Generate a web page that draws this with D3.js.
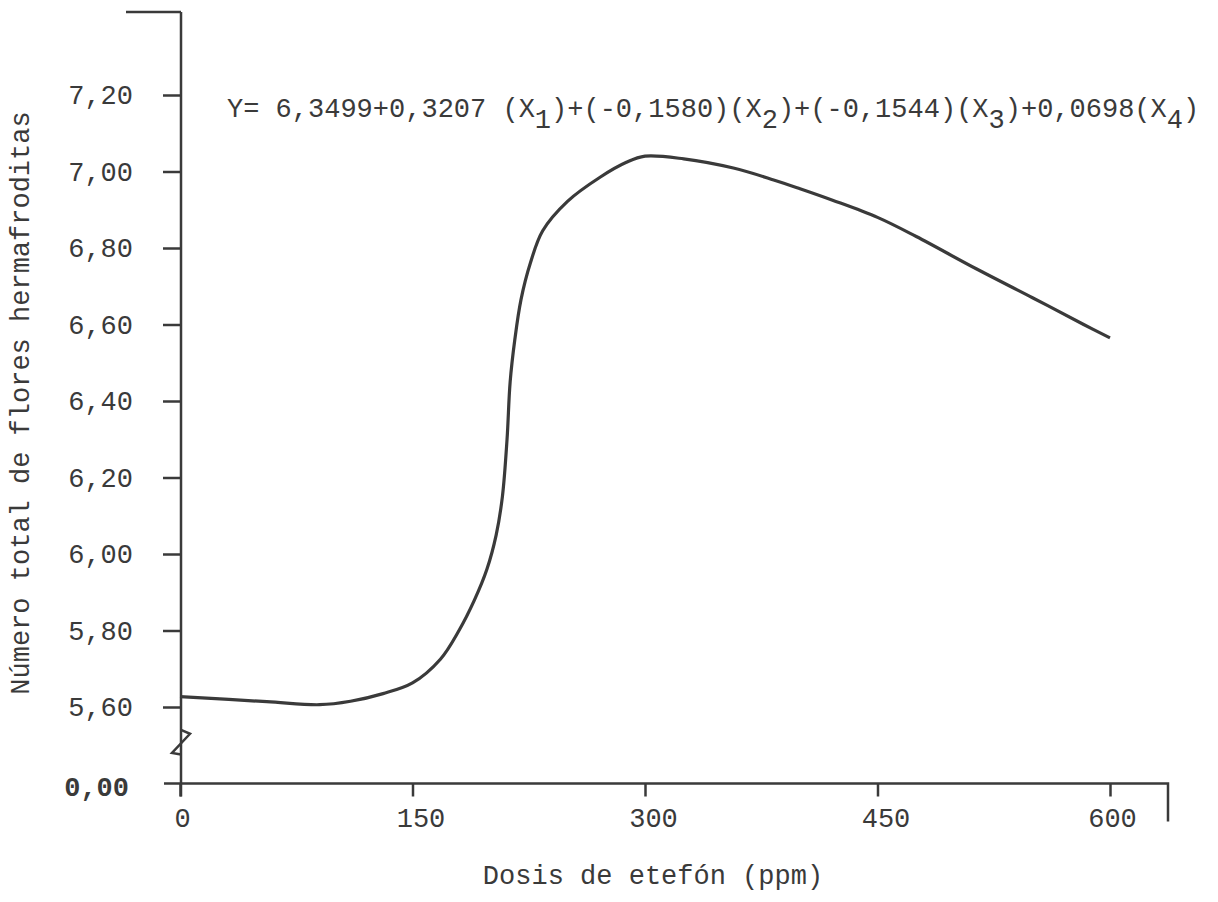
<!DOCTYPE html>
<html>
<head>
<meta charset="utf-8">
<script src="https://cdn.jsdelivr.net/npm/d3@7"></script>
<style>
  body { margin: 0; background: #fff; }
  text { font-family: "Liberation Mono", "DejaVu Sans Mono", monospace; fill: #3a3a3a; }
</style>
</head>
<body>
<script>
// dose (ppm) and total hermaphrodite flowers
var doses  = [0, 56, 90, 110, 131, 150, 168, 180, 190, 198, 204, 208, 211, 213, 216, 220, 226, 234, 250, 271, 288, 300, 325, 357, 383, 400, 421, 450, 475, 514, 550, 583, 600];
var values = [5.627, 5.614, 5.606, 5.615, 5.635, 5.663, 5.725, 5.800, 5.880, 5.960, 6.050, 6.150, 6.300, 6.450, 6.560, 6.665, 6.760, 6.845, 6.922, 6.985, 7.024, 7.040, 7.033, 7.009, 6.978, 6.955, 6.925, 6.880, 6.830, 6.745, 6.670, 6.600, 6.565];

var xTicks = [0, 150, 300, 450, 600];
var yTicks = [5.6, 5.8, 6.0, 6.2, 6.4, 6.6, 6.8, 7.0, 7.2];
var yBreakLabel = "0,00";

var xTitle = "Dosis de etefón (ppm)";
var yTitle = "Número total de flores hermafroditas";
// equation pieces: [text, isSubscript]
var equation = [["Y= 6,3499+0,3207 (X", 0], ["1", 1], [")+(-0,1580)(X", 0], ["2", 1],
                [")+(-0,1544)(X", 0], ["3", 1], [")+0,0698(X", 0], ["4", 1], [")", 0]];

var w = 1218, h = 902;
var ink = "#3a3a3a";

var svg = d3.select('body').append('svg')
            .attr('width', w)
            .attr('height', h);

var x = d3.scaleLinear().domain([0, 600]).range([180, 1110]);
var y = d3.scaleLinear().domain([5.6, 7.2]).range([707, 95]);
var step = y(5.6) - y(5.8);
var yBase = y(5.6) + step;   // where 0,00 sits after the axis break

// y axis
var yAxis = d3.axisLeft(y)
              .tickValues(yTicks)
              .tickSize(18)
              .tickPadding(30)
              .tickFormat(function(d){ return d3.format('.2f')(d).replace('.', ','); });

var gy = svg.append('g').attr('transform', 'translate(181,0)').call(yAxis);
gy.select('.domain').remove();
gy.selectAll('line').attr('stroke', ink).attr('stroke-width', 2.5);
gy.selectAll('text').attr('font-size', '27px').style('fill', ink);

svg.append('line')
   .attr('x1', 181).attr('x2', 181)
   .attr('y1', 12).attr('y2', yBase + 13)
   .attr('stroke', ink).attr('stroke-width', 2.5);
svg.append('line')
   .attr('x1', 126).attr('x2', 181)
   .attr('y1', 12).attr('y2', 12)
   .attr('stroke', ink).attr('stroke-width', 2.5);

// break mark
svg.append('path')
   .attr('d', d3.line()([[181, y(5.6) + step*0.3], [190, y(5.6) + step*0.35], [172, y(5.6) + step*0.6], [181, y(5.6) + step*0.62]]))
   .attr('fill', 'none').attr('stroke', ink).attr('stroke-width', 2.5);

svg.append('text')
   .attr('x', 129).attr('y', yBase + 5)
   .attr('text-anchor', 'end')
   .attr('dominant-baseline', 'central')
   .attr('font-size', '27px')
   .attr('font-weight', 'bold')
   .text(yBreakLabel);

// x axis
var xAxis = d3.axisBottom(x)
              .tickValues(xTicks)
              .tickSize(13)
              .tickPadding(11);

var gx = svg.append('g').attr('transform', 'translate(0,' + yBase + ')').call(xAxis);
gx.select('.domain').remove();
gx.selectAll('line').attr('stroke', ink).attr('stroke-width', 2.5);
gx.selectAll('text').attr('font-size', '27px').attr('dx', function(d){ return d > 0 && d < 600 ? 8 : 2; }).style('fill', ink);

svg.append('path')
   .attr('d', d3.line()([[164, yBase], [1168, yBase], [1168, yBase + 38]]))
   .attr('fill', 'none').attr('stroke', ink).attr('stroke-width', 2.5);

// curve
var line = d3.line()
             .x(function(d){ return x(d[0]); })
             .y(function(d){ return y(d[1]); })
             .curve(d3.curveCatmullRom.alpha(0.5));

svg.append('path')
   .datum(d3.zip(doses, values))
   .attr('d', line)
   .attr('fill', 'none')
   .attr('stroke', ink)
   .attr('stroke-width', 3.2)
   .attr('stroke-linejoin', 'round');

// titles
svg.append('text')
   .attr('x', 653).attr('y', 884)
   .attr('text-anchor', 'middle')
   .attr('font-size', '27px')
   .text(xTitle);

svg.append('text')
   .attr('transform', 'translate(22,403) rotate(-90)')
   .attr('text-anchor', 'middle')
   .attr('dominant-baseline', 'central')
   .attr('font-size', '27px')
   .text(yTitle);

// regression equation, typewriter style subscripts
var eq = svg.append('text')
            .attr('x', 227).attr('y', 117)
            .attr('font-size', '27px');
var shift = 0;
equation.forEach(function(p){
  var dy = p[1] ? 11 - shift : -shift;
  shift = p[1] ? 11 : 0;
  eq.append('tspan').attr('dy', dy).text(p[0]);
});
</script>
</body>
</html>
